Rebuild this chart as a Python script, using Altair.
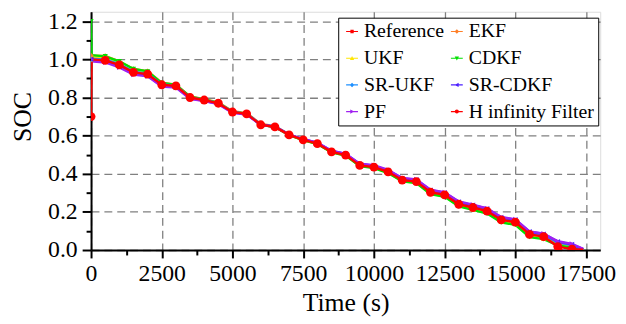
import altair as alt
import pandas as pd

SERIES = ["Reference", "EKF", "UKF", "CDKF", "SR-UKF", "SR-CDKF", "PF", "H infinity Filter"]
COLORS = ["#FF0000", "#FF7F27", "#FFE600", "#00E000", "#1E90FF", "#4B1EFF", "#A020F0", "#FF0000"]
SHAPES = ["square", "diamond", "triangle-up", "triangle-down", "diamond", "triangle-left", "triangle-right", "circle"]
MSIZE = [22, 28, 28, 28, 28, 28, 28, 80]
# legend order as it appears (column by column)
LEGEND_ORDER = ["Reference", "UKF", "SR-UKF", "PF", "EKF", "CDKF", "SR-CDKF", "H infinity Filter"]

REF_T = [0, 500, 1000, 1500, 2000, 2500, 3000, 3500, 4000, 4500, 5000, 5500, 6000, 6500, 7000,
         7500, 8000, 8500, 9000, 9500, 10000, 10500, 11000, 11500, 12000, 12500, 13000, 13500,
         14000, 14500, 15000, 15500, 16000, 16500, 16650]
REF_SOC = [1.000, 0.995, 0.971, 0.932, 0.923, 0.867, 0.861, 0.800, 0.787, 0.770, 0.724, 0.714,
           0.657, 0.646, 0.604, 0.578, 0.558, 0.515, 0.498, 0.444, 0.435, 0.410, 0.367, 0.359,
           0.303, 0.289, 0.240, 0.223, 0.204, 0.158, 0.146, 0.082, 0.070, 0.022, 0.000]

EST_T = [0, 20, 500, 1000, 1500, 2000, 2500, 3000, 3500, 4000, 4500, 5000, 5500, 6000, 6500, 7000,
         7500, 8000, 8500, 9000, 9500, 10000, 10500, 11000, 11500, 12000, 12500, 13000, 13500,
         14000, 14500, 15000, 15500, 16000, 16500, 17000, 17400]
EKF = [1.020, 1.020, 1.018, 0.990, 0.950, 0.938, 0.878, 0.868, 0.806, 0.792, 0.775, 0.728,
       0.718, 0.661, 0.650, 0.607, 0.581, 0.561, 0.517, 0.500, 0.446, 0.437, 0.411, 0.368,
       0.360, 0.304, 0.290, 0.241, 0.224, 0.205, 0.159, 0.147, 0.083, 0.071, 0.034, 0.020, 0.003]
UKF = [1.000, 1.012, 1.010, 0.984, 0.944, 0.932, 0.873, 0.865, 0.803, 0.789, 0.772, 0.725,
       0.715, 0.658, 0.646, 0.604, 0.577, 0.557, 0.513, 0.496, 0.441, 0.432, 0.406, 0.362,
       0.353, 0.296, 0.282, 0.232, 0.214, 0.195, 0.149, 0.136, 0.073, 0.061, 0.025, 0.012, 0.000]
CDKF = [1.200, 1.022, 1.016, 0.990, 0.950, 0.937, 0.876, 0.866, 0.804, 0.790, 0.772, 0.725,
        0.715, 0.657, 0.645, 0.603, 0.576, 0.556, 0.512, 0.495, 0.440, 0.430, 0.404, 0.360,
        0.351, 0.293, 0.279, 0.229, 0.211, 0.191, 0.145, 0.132, 0.068, 0.057, 0.024, 0.012, 0.000]
SR_UKF = [1.000, 1.004, 1.000, 0.975, 0.936, 0.925, 0.869, 0.862, 0.801, 0.788, 0.771, 0.725,
          0.715, 0.659, 0.648, 0.606, 0.580, 0.561, 0.518, 0.502, 0.448, 0.440, 0.415, 0.373,
          0.365, 0.310, 0.296, 0.248, 0.231, 0.212, 0.166, 0.154, 0.091, 0.079, 0.040, 0.026, 0.004]
SR_CDKF = [1.000, 0.996, 0.988, 0.962, 0.924, 0.915, 0.860, 0.855, 0.795, 0.783, 0.767, 0.722,
           0.713, 0.657, 0.647, 0.606, 0.581, 0.562, 0.520, 0.504, 0.451, 0.443, 0.418, 0.376,
           0.369, 0.314, 0.301, 0.253, 0.236, 0.217, 0.171, 0.159, 0.096, 0.084, 0.044, 0.030, 0.005]
PF = [1.000, 0.990, 0.984, 0.958, 0.920, 0.911, 0.857, 0.852, 0.793, 0.781, 0.765, 0.720,
      0.711, 0.656, 0.646, 0.606, 0.581, 0.563, 0.521, 0.505, 0.453, 0.445, 0.420, 0.378,
      0.371, 0.316, 0.303, 0.255, 0.238, 0.219, 0.173, 0.161, 0.098, 0.086, 0.046, 0.032, 0.006]
HINF = [0.700, 1.000, 0.995, 0.971, 0.932, 0.923, 0.867, 0.861, 0.800, 0.787, 0.770, 0.724,
        0.714, 0.657, 0.646, 0.604, 0.578, 0.558, 0.515, 0.498, 0.444, 0.435, 0.410, 0.367,
        0.359, 0.303, 0.289, 0.240, 0.223, 0.204, 0.158, 0.146, 0.082, 0.070, 0.018, 0.005, 0.002]

X_TICKS = [0, 2500, 5000, 7500, 10000, 12500, 15000, 17500]
X_MINOR = [1250, 3750, 6250, 8750, 11250, 13750, 16250]
Y_TICKS = [0.0, 0.2, 0.4, 0.6, 0.8, 1.0, 1.2]
Y_MINOR = [0.1, 0.3, 0.5, 0.7, 0.9, 1.1]

FONT = "Liberation Serif"

# legend glyphs: short line segment with the series marker on it
LINE = "M-1,-0.1 L1,-0.1 L1,0.1 L-1,0.1 Z "
MARK_PATHS = {
    "square": "M-0.28,-0.28 L0.28,-0.28 L0.28,0.28 L-0.28,0.28 Z",
    "diamond": "M0,-0.38 L0.38,0 L0,0.38 L-0.38,0 Z",
    "triangle-up": "M0,-0.38 L0.36,0.3 L-0.36,0.3 Z",
    "triangle-down": "M-0.36,-0.3 L0.36,-0.3 L0,0.38 Z",
    "triangle-left": "M-0.38,0 L0.3,-0.36 L0.3,0.36 Z",
    "triangle-right": "M0.38,0 L-0.3,0.36 L-0.3,-0.36 Z",
    "circle": "M0.34,0 A0.34,0.34 0 1,1 -0.34,0 A0.34,0.34 0 1,1 0.34,0 Z",
}
shape_of = dict(zip(SERIES, SHAPES))
color_of = dict(zip(SERIES, COLORS))
LEGEND_PATHS = [LINE + MARK_PATHS[shape_of[s]] for s in LEGEND_ORDER]
LEGEND_COLORS = [color_of[s] for s in LEGEND_ORDER]

rows = []
for t, v in zip(REF_T, REF_SOC):
    rows.append({"series": "Reference", "t": t, "soc": v})
for name, vals in [("EKF", EKF), ("UKF", UKF), ("CDKF", CDKF), ("SR-UKF", SR_UKF),
                   ("SR-CDKF", SR_CDKF), ("PF", PF), ("H infinity Filter", HINF)]:
    for t, v in zip(EST_T, vals):
        rows.append({"series": name, "t": t, "soc": v})
df = pd.DataFrame(rows)
df["marker"] = (df["t"] % 500 == 0) & (df["t"] <= 17000)

xscale = alt.Scale(domain=[0, 18000], nice=False, zero=False)
yscale = alt.Scale(domain=[0, 1.25], nice=False, zero=False)
color_scale = alt.Scale(domain=LEGEND_ORDER, range=LEGEND_COLORS)
shape_scale = alt.Scale(domain=LEGEND_ORDER, range=LEGEND_PATHS)

legend = alt.Legend(
    title=None, orient="none", legendX=250, legendY=6, columns=2,
    labelFont=FONT, labelFontSize=20, labelColor="black", labelOffset=2,
    symbolSize=144, symbolStrokeWidth=0, symbolOpacity=1, padding=4, rowPadding=7, columnPadding=2,
    strokeColor="black", fillColor="white", labelLimit=300,
)

main_x_axis = alt.Axis(values=X_TICKS, format="d", grid=True, gridDash=[8, 5], gridColor="#808080",
                       gridWidth=1.3, tickSize=8, tickWidth=2, tickColor="black", domainColor="black",
                       domainWidth=2, labelFont=FONT, labelFontSize=24, labelColor="black",
                       labelPadding=4, labelFlush=False, labelOverlap=False, title="Time (s)",
                       titleFont=FONT, titleFontSize=26, titleFontWeight="normal", titleColor="black",
                       titleY=61, titleBaseline="alphabetic", orient="bottom")
main_y_axis = alt.Axis(values=Y_TICKS, format=".1f", grid=True, gridDash=[8, 5], gridColor="#808080",
                       gridWidth=1.3, tickSize=9, tickWidth=2, tickColor="black", domainColor="black",
                       domainWidth=2, labelFont=FONT, labelFontSize=24, labelColor="black",
                       labelPadding=5, labelFlush=False, labelOverlap=False, title="SOC",
                       titleFont=FONT, titleFontSize=26, titleFontWeight="normal", titleColor="black",
                       titleX=-61, titleY=106, titleBaseline="alphabetic", orient="left")

layers = []
for i, s in enumerate(SERIES):
    base = alt.Chart(df).transform_filter(alt.datum.series == s)
    xa = main_x_axis if i == 0 else None
    ya = main_y_axis if i == 0 else None
    line = base.mark_line(strokeWidth=2.4, clip=True, color=COLORS[i]).encode(
        x=alt.X("t:Q", scale=xscale, axis=xa),
        y=alt.Y("soc:Q", scale=yscale, axis=ya),
        order="t:Q",
    )
    layers.append(line)
for i, s in enumerate(SERIES):
    base = alt.Chart(df).transform_filter(alt.datum.series == s)
    pts = base.transform_filter(alt.datum.marker).mark_point(
        filled=True, size=MSIZE[i], opacity=1, clip=True, shape=SHAPES[i], color=COLORS[i]).encode(
        x=alt.X("t:Q", scale=xscale, axis=None),
        y=alt.Y("soc:Q", scale=yscale, axis=None),
    )
    layers.append(pts)

# legend-only layer (no rows pass the filter; entries come from the scale domains)
legend_layer = alt.Chart(df).transform_filter(alt.datum.t < 0).mark_point(filled=True, opacity=1).encode(
    x=alt.X("t:Q", scale=xscale, axis=None),
    y=alt.Y("soc:Q", scale=yscale, axis=None),
    color=alt.Color("series:N", scale=color_scale, legend=legend),
    shape=alt.Shape("series:N", scale=shape_scale, legend=legend),
)
layers.append(legend_layer)

minor = alt.Chart(df).transform_filter(alt.datum.series == "Reference").mark_point(opacity=0).encode(
    x=alt.X("t:Q", scale=xscale, axis=alt.Axis(values=X_MINOR, labels=False, grid=False, domain=False,
                                               tickSize=5, tickWidth=2, tickColor="black", title=None,
                                               orient="bottom")),
    y=alt.Y("soc:Q", scale=yscale, axis=alt.Axis(values=Y_MINOR, labels=False, grid=False, domain=False,
                                                 tickSize=5, tickWidth=2, tickColor="black", title=None,
                                                 orient="left")),
)
layers.append(minor)

chart = alt.layer(*layers).resolve_axis(x="independent", y="independent").properties(
    width=515, height=241,
    autosize=alt.AutoSizeParams(type="none"),
    padding={"left": 84, "top": 2, "right": 18, "bottom": 70},
).configure_view(stroke="black", strokeWidth=2).configure(background="white")

chart.save("out.html", embed_options={"renderer": "svg", "actions": False})
